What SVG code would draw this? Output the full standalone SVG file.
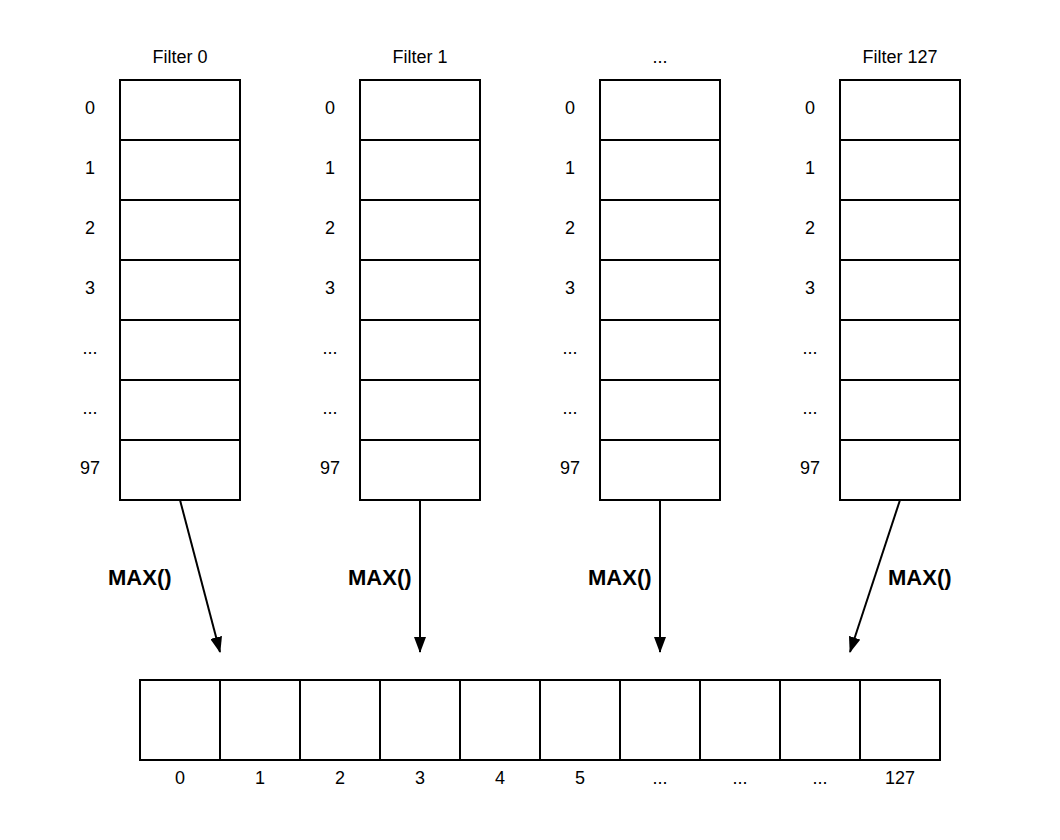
<svg xmlns="http://www.w3.org/2000/svg" width="1060" height="840" viewBox="0 0 1060 840">
<style>
.c{fill:#fff;stroke:#000;stroke-width:2}
.t{font-family:"Liberation Sans",Arial,sans-serif;font-size:18px;fill:#000;text-anchor:middle}
.m{font-family:"Liberation Sans",Arial,sans-serif;font-size:22px;font-weight:bold;fill:#000}
.e{stroke:#000;stroke-width:2;fill:none}
</style>
<defs>
<marker id="ah" viewBox="0 0 16 12" refX="15" refY="6" markerWidth="16" markerHeight="12" markerUnits="userSpaceOnUse" orient="auto">
<path d="M0,0 L16,6 L0,12 Z" fill="#000"/>
</marker>
<g id="col">
<rect class="c" x="0" y="0" width="120" height="60"/>
<rect class="c" x="0" y="60" width="120" height="60"/>
<rect class="c" x="0" y="120" width="120" height="60"/>
<rect class="c" x="0" y="180" width="120" height="60"/>
<rect class="c" x="0" y="240" width="120" height="60"/>
<rect class="c" x="0" y="300" width="120" height="60"/>
<rect class="c" x="0" y="360" width="120" height="60"/>
<text class="t" x="-30" y="34">0</text>
<text class="t" x="-30" y="94">1</text>
<text class="t" x="-30" y="154">2</text>
<text class="t" x="-30" y="214">3</text>
<text class="t" x="-30" y="274">...</text>
<text class="t" x="-30" y="334">...</text>
<text class="t" x="-30" y="394">97</text>
</g>
</defs>
<rect width="1060" height="840" fill="#fff"/>
<g id="filter0"><text class="t" x="180" y="63">Filter 0</text><use href="#col" x="120" y="80"/></g>
<g id="filter1"><text class="t" x="420" y="63">Filter 1</text><use href="#col" x="360" y="80"/></g>
<g id="filterdots"><text class="t" x="660" y="63">...</text><use href="#col" x="600" y="80"/></g>
<g id="filter127"><text class="t" x="900" y="63">Filter 127</text><use href="#col" x="840" y="80"/></g>
<g id="output">
<rect class="c" x="140" y="680" width="80" height="80"/>
<rect class="c" x="220" y="680" width="80" height="80"/>
<rect class="c" x="300" y="680" width="80" height="80"/>
<rect class="c" x="380" y="680" width="80" height="80"/>
<rect class="c" x="460" y="680" width="80" height="80"/>
<rect class="c" x="540" y="680" width="80" height="80"/>
<rect class="c" x="620" y="680" width="80" height="80"/>
<rect class="c" x="700" y="680" width="80" height="80"/>
<rect class="c" x="780" y="680" width="80" height="80"/>
<rect class="c" x="860" y="680" width="80" height="80"/>
<text class="t" x="180" y="784">0</text>
<text class="t" x="260" y="784">1</text>
<text class="t" x="340" y="784">2</text>
<text class="t" x="420" y="784">3</text>
<text class="t" x="500" y="784">4</text>
<text class="t" x="580" y="784">5</text>
<text class="t" x="660" y="784">...</text>
<text class="t" x="740" y="784">...</text>
<text class="t" x="820" y="784">...</text>
<text class="t" x="900" y="784">127</text>
</g>
<g id="connectors">
<line class="e" x1="180" y1="500" x2="220" y2="652" marker-end="url(#ah)"/>
<line class="e" x1="420" y1="500" x2="420" y2="652" marker-end="url(#ah)"/>
<line class="e" x1="660" y1="500" x2="660" y2="652" marker-end="url(#ah)"/>
<line class="e" x1="900" y1="500" x2="850" y2="652" marker-end="url(#ah)"/>
<text class="m" x="108" y="585">MAX()</text>
<text class="m" x="348" y="585">MAX()</text>
<text class="m" x="588" y="585">MAX()</text>
<text class="m" x="888" y="585">MAX()</text>
</g>
</svg>
